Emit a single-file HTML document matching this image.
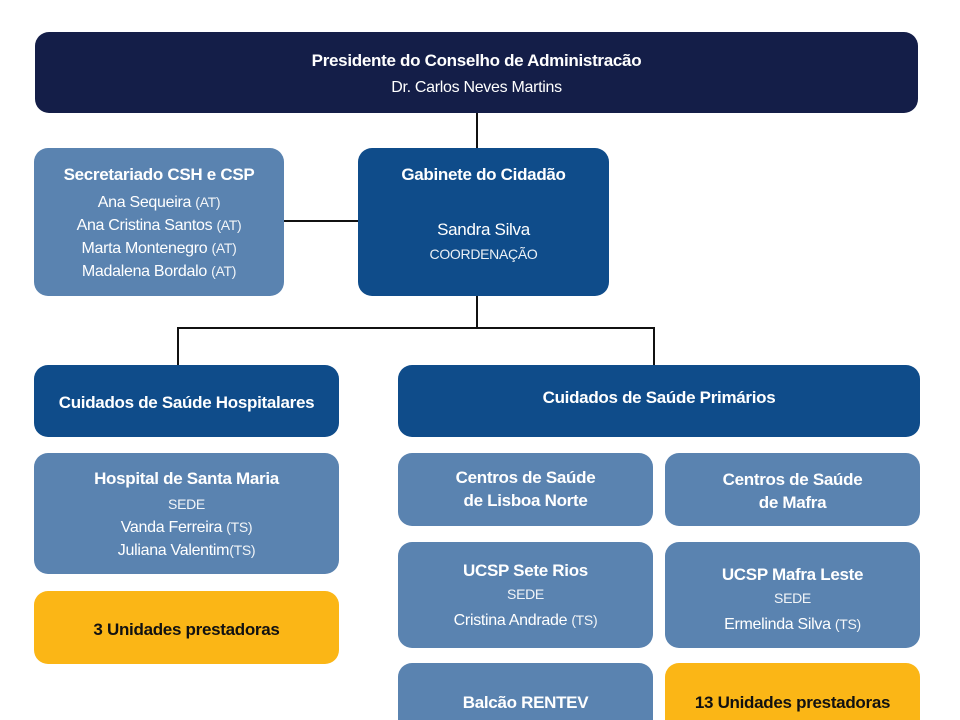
<!DOCTYPE html>
<html style="width:960px;height:720px;overflow:hidden"><head><meta charset="utf-8"><style>
html,body{margin:0;width:960px;height:720px;overflow:hidden}
body{background:#fff;position:relative;font-family:"Liberation Sans",Arial,sans-serif;color:#fff}
.b{position:absolute;border-radius:14px;overflow:hidden}
.n{background:#141e48}.m{background:#0f4c8a}.l{background:#5a83b0}.y{background:#fbb616;color:#111}
.t{position:absolute;left:0;right:0;text-align:center;white-space:nowrap;letter-spacing:-0.3px}
.h{font-weight:bold;font-size:17px}
.p{font-size:16px}
.s{font-size:14px;font-weight:normal;opacity:.92}
.ln{position:absolute;background:#111}
#wrap{position:absolute;left:0;top:0;width:960px;height:720px;overflow:hidden}
</style></head><body><div id="wrap">
<div class="ln" style="left:476px;top:113px;width:2px;height:36px"></div>
<div class="ln" style="left:284px;top:220px;width:75px;height:2px"></div>
<div class="ln" style="left:476px;top:296px;width:2px;height:33px"></div>
<div class="ln" style="left:177px;top:327px;width:478px;height:2px"></div>
<div class="ln" style="left:177px;top:327px;width:2px;height:38px"></div>
<div class="ln" style="left:653px;top:327px;width:2px;height:38px"></div>

<div class="b n" style="left:35px;top:32px;width:883px;height:81px">
<div class="t h" style="top:19px">Presidente do Conselho de Administracão</div>
<div class="t p" style="top:47px">Dr. Carlos Neves Martins</div></div>

<div class="b l" style="left:34px;top:148px;width:250px;height:148px">
<div class="t h" style="top:17px">Secretariado CSH e CSP</div>
<div class="t p" style="top:46px">Ana Sequeira <span class="s">(AT)</span></div>
<div class="t p" style="top:69px">Ana Cristina Santos <span class="s">(AT)</span></div>
<div class="t p" style="top:92px">Marta Montenegro <span class="s">(AT)</span></div>
<div class="t p" style="top:115px">Madalena Bordalo <span class="s">(AT)</span></div></div>

<div class="b m" style="left:358px;top:148px;width:251px;height:148px">
<div class="t h" style="top:17px">Gabinete do Cidadão</div>
<div class="t p" style="top:72px;font-size:17px">Sandra Silva</div>
<div class="t s" style="top:98px">COORDENAÇÃO</div></div>

<div class="b m" style="left:34px;top:365px;width:305px;height:72px">
<div class="t h" style="top:28px">Cuidados de Saúde Hospitalares</div></div>

<div class="b m" style="left:398px;top:365px;width:522px;height:72px">
<div class="t h" style="top:23px">Cuidados de Saúde Primários</div></div>

<div class="b l" style="left:34px;top:453px;width:305px;height:121px">
<div class="t h" style="top:16px">Hospital de Santa Maria</div>
<div class="t s" style="top:43px">SEDE</div>
<div class="t p" style="top:66px">Vanda Ferreira <span class="s">(TS)</span></div>
<div class="t p" style="top:89px">Juliana Valentim<span class="s">(TS)</span></div></div>

<div class="b y" style="left:34px;top:591px;width:305px;height:73px">
<div class="t h" style="top:29px">3 Unidades prestadoras</div></div>

<div class="b l" style="left:398px;top:453px;width:255px;height:73px">
<div class="t h" style="top:15px">Centros de Saúde</div>
<div class="t h" style="top:38px">de Lisboa Norte</div></div>

<div class="b l" style="left:665px;top:453px;width:255px;height:73px">
<div class="t h" style="top:17px">Centros de Saúde</div>
<div class="t h" style="top:40px">de Mafra</div></div>

<div class="b l" style="left:398px;top:542px;width:255px;height:106px">
<div class="t h" style="top:19px">UCSP Sete Rios</div>
<div class="t s" style="top:44px">SEDE</div>
<div class="t p" style="top:70px">Cristina Andrade <span class="s">(TS)</span></div></div>

<div class="b l" style="left:665px;top:542px;width:255px;height:106px">
<div class="t h" style="top:23px">UCSP Mafra Leste</div>
<div class="t s" style="top:48px">SEDE</div>
<div class="t p" style="top:74px">Ermelinda Silva <span class="s">(TS)</span></div></div>

<div class="b l" style="left:398px;top:663px;width:255px;height:57px;border-radius:14px 14px 0 0">
<div class="t h" style="top:30px">Balcão RENTEV</div></div>

<div class="b y" style="left:665px;top:663px;width:255px;height:57px;border-radius:14px 14px 0 0">
<div class="t h" style="top:30px">13 Unidades prestadoras</div></div>
</div></body></html>
